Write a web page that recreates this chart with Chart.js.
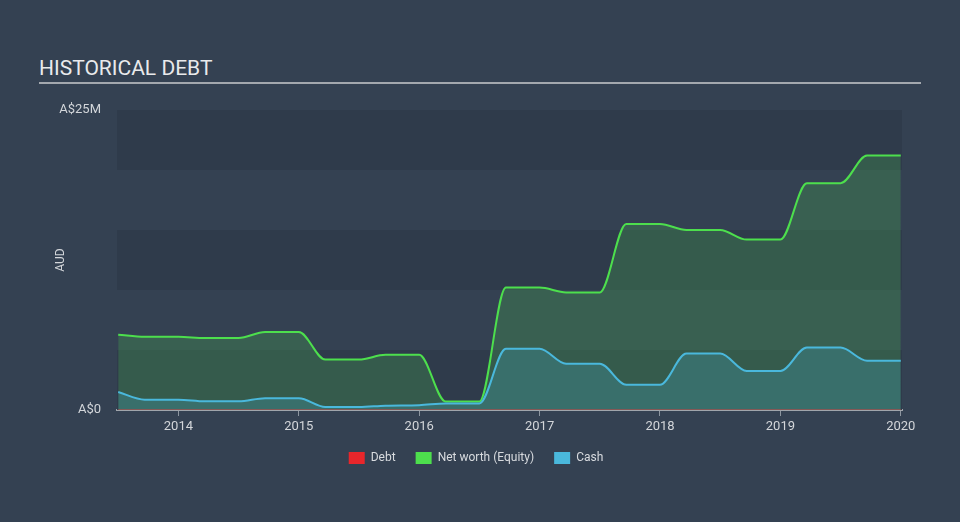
<!DOCTYPE html>
<html>
<head>
<meta charset="utf-8">
<script src="https://cdn.jsdelivr.net/npm/chart.js@4.4.1/dist/chart.umd.min.js"></script>
<style>
    html, body { margin: 0; padding: 0; background: #344152; }
    #wrap { position: relative; width: 960px; height: 522px; overflow: hidden; }
    #title {
        position: absolute; left: 39px; top: 57px; width: 882px;
        font: 21px Roboto, sans-serif; color: #e9eaec;
        padding-bottom: 2px; border-bottom: 2px solid #a3a8ae;
        line-height: 23px;
    }
    #chartBox { position: absolute; left: 0; top: 0; width: 960px; height: 522px; }
</style>
</head>
<body>
<div id="wrap">
    <div id="title">HISTORICAL DEBT</div>
    <div id="chartBox"><canvas id="debtChart"></canvas></div>
</div>
<script>
// decimal years of each reported point
const years = [2013.5, 2013.72, 2014.0, 2014.22, 2014.5, 2014.72, 2015.0, 2015.22, 2015.5, 2015.72,
    2016.0, 2016.22, 2016.5, 2016.72, 2017.0, 2017.22, 2017.5, 2017.72, 2018.0, 2018.22,
    2018.5, 2018.72, 2019.0, 2019.22, 2019.5, 2019.72, 2020.0];

// values in millions of AUD
const debt = [0, 0, 0, 0, 0, 0, 0, 0, 0, 0, 0, 0, 0, 0, 0, 0, 0, 0, 0, 0, 0, 0, 0, 0, 0, 0, 0];
const equity = [6.27, 6.1, 6.1, 6.0, 6.0, 6.5, 6.5, 4.2, 4.2, 4.6, 4.6, 0.7, 0.7, 10.2, 10.2,
    9.8, 9.8, 15.5, 15.5, 15.0, 15.0, 14.2, 14.2, 18.9, 18.9, 21.2, 21.2];
const cash = [1.5, 0.86, 0.86, 0.72, 0.72, 0.98, 0.98, 0.25, 0.25, 0.36, 0.4, 0.55, 0.55, 5.1, 5.1,
    3.85, 3.85, 2.1, 2.1, 4.7, 4.7, 3.25, 3.25, 5.2, 5.2, 4.1, 4.1];

const xTicks = [2014, 2015, 2016, 2017, 2018, 2019, 2020];
const yMax = 25;
const yStep = 5;

function toPoints(values) {
    return values.map((v, i) => ({ x: years[i], y: v }));
}

// alternating horizontal bands behind the plot
const bandsPlugin = {
    id: 'bands',
    beforeDatasetsDraw(chart) {
        const { ctx, chartArea, scales } = chart;
        ctx.save();
        for (let i = 0; i < yMax / yStep; i++) {
            if (i % 2 !== 0) continue;
            const top = scales.y.getPixelForValue(yMax - i * yStep);
            const bottom = scales.y.getPixelForValue(yMax - (i + 1) * yStep);
            ctx.fillStyle = '#2f3b4b';
            ctx.fillRect(chartArea.left, top, chartArea.right - chartArea.left, bottom - top);
        }
        ctx.restore();
    }
};

const ctx = document.getElementById('debtChart').getContext('2d');
new Chart(ctx, {
    type: 'line',
    data: {
        datasets: [{
            label: 'Debt',
            data: toPoints(debt),
            borderColor: 'rgba(230, 60, 60, 0.6)',
            backgroundColor: '#e8262b',
            borderWidth: 1.5,
            fill: false,
            order: 0
        }, {
            label: 'Net worth (Equity)',
            data: toPoints(equity),
            borderColor: '#4ddf4d',
            backgroundColor: 'rgba(80, 220, 80, 0.2)',
            borderWidth: 2,
            fill: 'origin',
            order: 2
        }, {
            label: 'Cash',
            data: toPoints(cash),
            borderColor: '#4ab8dc',
            backgroundColor: 'rgba(74, 184, 219, 0.22)',
            borderWidth: 2,
            fill: 'origin',
            order: 1
        }]
    },
    options: {
        responsive: true,
        maintainAspectRatio: false,
        animation: false,
        elements: {
            point: { radius: 0, hoverRadius: 0 },
            line: { cubicInterpolationMode: 'monotone' }
        },
        layout: { padding: { left: 50, right: 58, top: 110, bottom: 48 } },
        scales: {
            x: {
                type: 'linear',
                min: 2013.49,
                max: 2020.01,
                afterBuildTicks: (scale) => { scale.ticks = xTicks.map(v => ({ value: v })); },
                afterFit: (scale) => { scale.height = 22; },
                ticks: {
                    color: '#d3d6da',
                    font: { family: 'Roboto', size: 13 },
                    padding: 3,
                    maxRotation: 0,
                    callback: (v) => String(v)
                },
                grid: { drawOnChartArea: false, tickLength: 6, color: '#8d96a0', lineWidth: 1 },
                border: { color: '#a0a5ab', width: 2 }
            },
            y: {
                min: 0,
                max: yMax,
                ticks: {
                    stepSize: yStep,
                    color: '#d3d6da',
                    font: { family: 'Roboto', size: 13 },
                    padding: 16,
                    callback: (v) => v === yMax ? 'A$25M' : (v === 0 ? 'A$0' : '')
                },
                grid: { display: false, drawTicks: false },
                border: { display: false },
                afterFit: (scale) => { scale.width = 67; },
                title: {
                    display: true,
                    text: 'AUD',
                    color: '#d3d6da',
                    font: { family: 'Roboto', size: 12 },
                    padding: 4
                }
            }
        },
        plugins: {
            legend: {
                position: 'bottom',
                labels: {
                    color: '#d8dbdf',
                    font: { family: 'Roboto', size: 12 },
                    boxWidth: 16,
                    boxHeight: 12,
                    padding: 20,
                    generateLabels: (chart) => chart.data.datasets.map((ds, i) => ({
                        text: ds.label,
                        fillStyle: i === 0 ? '#e8262b' : ds.borderColor,
                        strokeStyle: i === 0 ? '#e8262b' : ds.borderColor,
                        lineWidth: 0,
                        fontColor: '#d8dbdf',
                        datasetIndex: i
                    }))
                }
            },
            tooltip: { enabled: false }
        }
    },
    plugins: [bandsPlugin]
});
</script>
</body>
</html>
